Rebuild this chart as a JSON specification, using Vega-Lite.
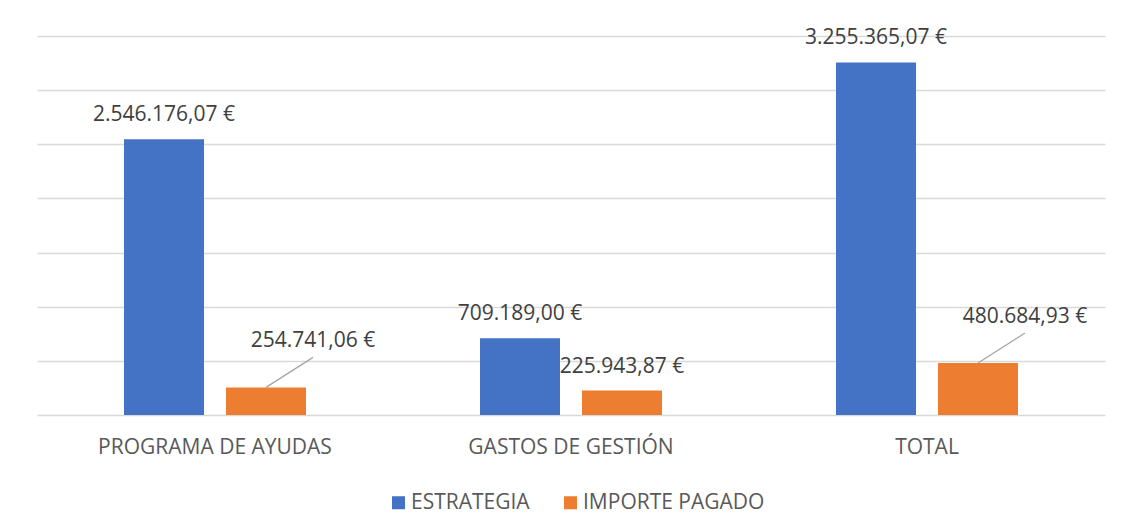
{
  "$schema": "https://vega.github.io/schema/vega-lite/v6.json",
  "autosize": {"type": "none"},
  "width": 1068,
  "height": 379,
  "padding": {"left": 37, "top": 36, "right": 23, "bottom": 116},
  "background": "#ffffff",
  "config": {
    "view": {"stroke": null},
    "font": "Open Sans",
    "locale": {
      "number": {"decimal": ",", "thousands": ".", "grouping": [3], "currency": ["", " €"]}
    }
  },
  "data": {
    "values": [
      {"concepto": "PROGRAMA DE AYUDAS", "serie": "ESTRATEGIA", "importe": 2546176.07},
      {"concepto": "PROGRAMA DE AYUDAS", "serie": "IMPORTE PAGADO", "importe": 254741.06},
      {"concepto": "GASTOS DE GESTIÓN", "serie": "ESTRATEGIA", "importe": 709189.00},
      {"concepto": "GASTOS DE GESTIÓN", "serie": "IMPORTE PAGADO", "importe": 225943.87},
      {"concepto": "TOTAL", "serie": "ESTRATEGIA", "importe": 3255365.07},
      {"concepto": "TOTAL", "serie": "IMPORTE PAGADO", "importe": 480684.93}
    ]
  },
  "encoding": {
    "x": {
      "field": "concepto",
      "type": "nominal",
      "sort": null,
      "scale": {"paddingInner": 0, "paddingOuter": 0},
      "axis": {
        "title": null,
        "labelAngle": 0,
        "domain": false,
        "ticks": false,
        "labelFontSize": 21,
        "labelColor": "#595959",
        "labelPadding": 21,
        "labelLimit": 0,
        "labelFont": "Open Sans"
      }
    },
    "y": {
      "field": "importe",
      "type": "quantitative",
      "scale": {"domain": [0, 3500000], "nice": false, "zero": true},
      "axis": {
        "title": null,
        "labels": false,
        "ticks": false,
        "domain": false,
        "values": [0, 500000, 1000000, 1500000, 2000000, 2500000, 3000000, 3500000],
        "grid": true,
        "gridColor": "#d9d9d9",
        "gridWidth": 1.4
      }
    }
  },
  "layer": [
    {
      "mark": {"type": "bar"},
      "encoding": {
        "xOffset": {
          "field": "serie",
          "type": "nominal",
          "scale": {"paddingInner": 0.2157, "paddingOuter": 0.853}
        },
        "color": {
          "field": "serie",
          "type": "nominal",
          "scale": {"domain": ["ESTRATEGIA", "IMPORTE PAGADO"], "range": ["#4472C4", "#ED7D31"]},
          "legend": {
            "title": null,
            "orient": "none",
            "direction": "horizontal",
            "legendX": 351,
            "legendY": 456,
            "symbolType": "square",
            "symbolSize": 169,
            "symbolStrokeWidth": 0,
            "labelFontSize": 21,
            "labelColor": "#595959",
            "labelFont": "Open Sans",
            "labelOffset": 2,
            "labelLimit": 0,
            "columnPadding": 30,
            "padding": 0
          }
        }
      }
    },
    {
      "transform": [
        {"filter": "datum.serie == 'ESTRATEGIA' || datum.concepto == 'GASTOS DE GESTIÓN'"}
      ],
      "mark": {"type": "text", "baseline": "middle", "dy": -24, "fontSize": 21, "color": "#404040", "font": "Open Sans"},
      "encoding": {
        "xOffset": {
          "field": "serie",
          "type": "nominal",
          "scale": {"paddingInner": 0.2157, "paddingOuter": 0.853}
        },
        "text": {"field": "importe", "type": "quantitative", "format": "$,.2f"}
      }
    },
    {
      "transform": [
        {"filter": "datum.serie == 'IMPORTE PAGADO' && datum.concepto != 'GASTOS DE GESTIÓN'"}
      ],
      "mark": {"type": "text", "baseline": "middle", "dx": 47, "dy": -46, "fontSize": 21, "color": "#404040", "font": "Open Sans"},
      "encoding": {
        "xOffset": {
          "field": "serie",
          "type": "nominal",
          "scale": {"paddingInner": 0.2157, "paddingOuter": 0.853}
        },
        "text": {"field": "importe", "type": "quantitative", "format": "$,.2f"}
      }
    },
    {
      "transform": [
        {"filter": "datum.serie == 'IMPORTE PAGADO' && datum.concepto != 'GASTOS DE GESTIÓN'"}
      ],
      "mark": {"type": "rule", "color": "#a6a6a6", "strokeWidth": 1.3, "xOffset": 51, "x2Offset": 98, "y2Offset": -30},
      "encoding": {
        "x2": {"field": "concepto"},
        "y2": {"field": "importe"}
      }
    }
  ]
}
